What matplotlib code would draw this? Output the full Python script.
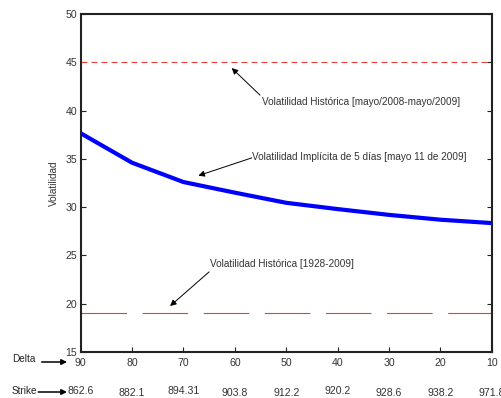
import matplotlib
matplotlib.use('Agg')
import matplotlib.pyplot as plt
import matplotlib.transforms as mtransforms

plt.rcParams['font.family'] = ['Liberation Sans', 'DejaVu Sans']

# delta grid of the options and implied volatility (%) for each
delta = [90, 80, 70, 60, 50, 40, 30, 20, 10]
vol_implicita = [37.65, 34.6, 32.6, 31.5, 30.45, 29.8, 29.2, 28.7, 28.35]
strike = ['862.6', '882.1', '894.31', '903.8', '912.2', '920.2', '928.6', '938.2', '971.8']

# historical volatility levels (%)
vol_hist_anual = 45.0   # mayo/2008 - mayo/2009
vol_hist_larga = 19.0   # 1928 - 2009

y_ticks = [15, 20, 25, 30, 35, 40, 45, 50]

W, H = 501, 398
fig = plt.figure(figsize=(W / 100, H / 100), dpi=100)
ax = fig.add_axes([80.7 / W, 1 - 352 / H, (491.7 - 80.7) / W, (352 - 14) / H])

red = '#e2413b'
ax.plot([delta[0], delta[-1]], [vol_hist_anual, vol_hist_anual], color=red,
        lw=0.8, linestyle=(0, (5.4, 3.6)))
ax.plot([delta[0], delta[-1]], [vol_hist_larga, vol_hist_larga], color=red,
        lw=0.8, linestyle=(0, (41, 14)))
ax.plot(delta, vol_implicita, color='#0000ff', lw=3, solid_capstyle='butt')

ax.set_xlim(90, 10)
ax.set_ylim(15, 50)
ax.set_xticks(delta)
ax.set_yticks(y_ticks)
ax.tick_params(direction='in', length=3.5, width=0.8, labelsize=7.6,
               colors='#222222', labelcolor='#333333', right=True, top=False)
ax.tick_params(axis='x', pad=4)
ax.tick_params(axis='y', pad=2.5)
for s in ax.spines.values():
    s.set_linewidth(1.5)
    s.set_color('#222222')
ax.set_ylabel('Volatilidad', fontsize=7.2, color='#333333', labelpad=5)

arrow = dict(arrowstyle='-|>', color='black', lw=0.7, mutation_scale=9,
             shrinkA=0, shrinkB=0)
txt = dict(fontsize=7.2, color='#333333', va='center', ha='left')
ax.annotate('', xy=(60.6, 44.4), xytext=(55.1, 41.6), arrowprops=arrow)
ax.text(54.8, 40.9, 'Volatilidad Histórica [mayo/2008-mayo/2009]', **txt)
ax.annotate('', xy=(67.1, 33.26), xytext=(56.7, 35.1), arrowprops=arrow)
ax.text(56.7, 35.16, 'Volatilidad Implícita de 5 días [mayo 11 de 2009]', **txt)
ax.annotate('', xy=(72.6, 19.76), xytext=(65.0, 23.3), arrowprops=arrow)
ax.text(64.8, 24.08, 'Volatilidad Histórica [1928-2009]', **txt)

# strike row under the delta labels
trans = mtransforms.blended_transform_factory(ax.transData, fig.transFigure)
row_y = [391, 393.3, 391, 393.3, 393.3, 391, 393.3, 393.3, 393.3]
for d, k, yy in zip(delta, strike, row_y):
    ax.text(d, 1 - yy / H, k, transform=trans, fontsize=7.6, color='#333333',
            ha='center', va='center', clip_on=False)

# row captions with arrows
cap = dict(fontsize=7.2, color='#222222', va='center', ha='left')
fig.text(11.7 / W, 1 - 359.5 / H, 'Delta', **cap)
fig.text(11.7 / W, 1 - 391 / H, 'Strike', **cap)
big = dict(arrowstyle='-|>', color='black', lw=1.1, mutation_scale=8,
           shrinkA=0, shrinkB=0)
ax.annotate('', xy=(67 / W, 1 - 362 / H), xytext=(41.7 / W, 1 - 362 / H),
            xycoords='figure fraction', textcoords='figure fraction',
            arrowprops=big)
ax.annotate('', xy=(67 / W, 1 - 392 / H), xytext=(38.3 / W, 1 - 392 / H),
            xycoords='figure fraction', textcoords='figure fraction',
            arrowprops=big)

fig.savefig('out.png', dpi=100, facecolor='white')
